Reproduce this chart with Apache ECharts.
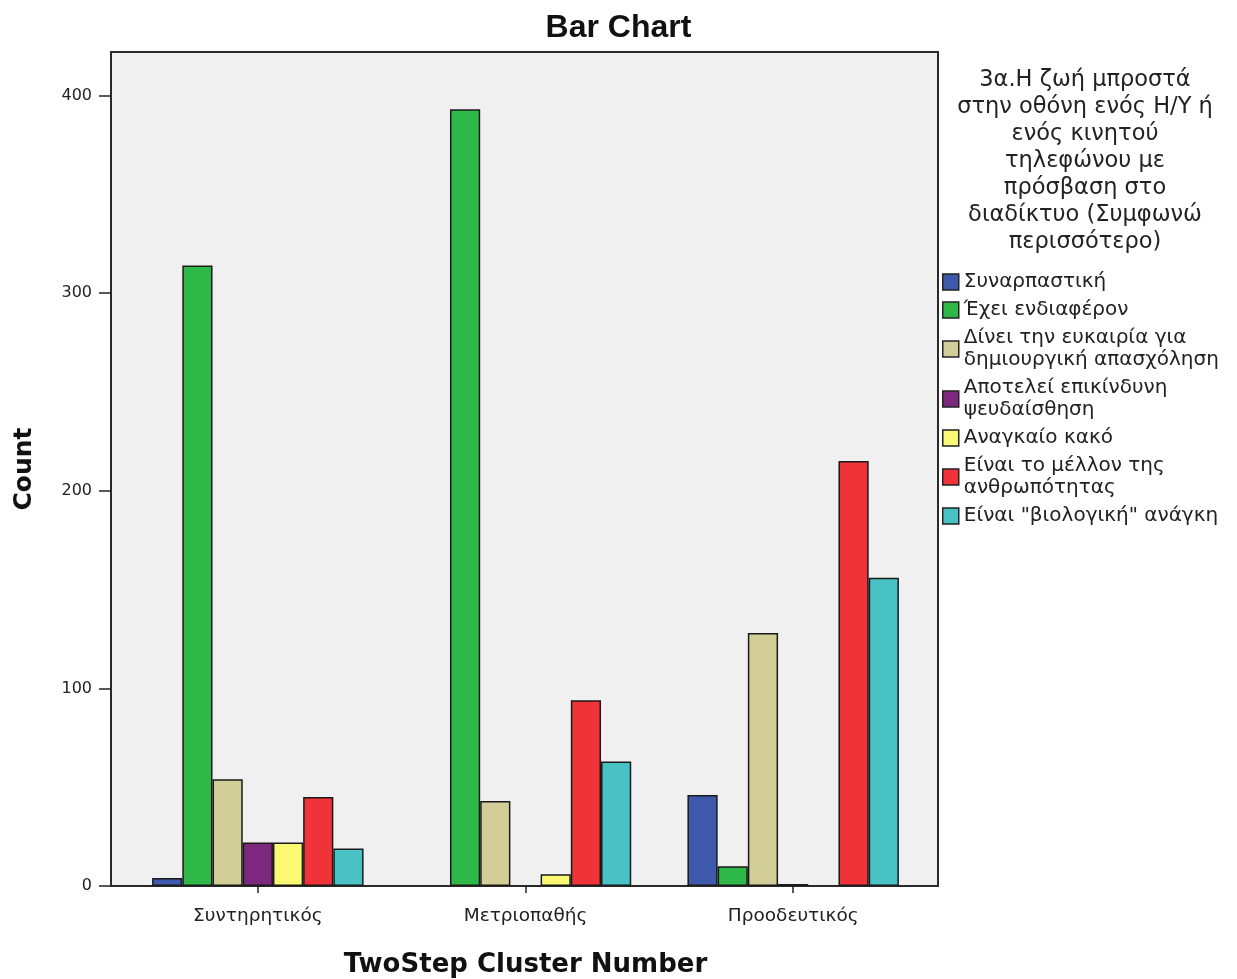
<!DOCTYPE html>
<html>
<head>
<meta charset="utf-8">
<script src="https://cdn.jsdelivr.net/npm/echarts@6/dist/echarts.min.js"></script>
<style>html,body{margin:0;padding:0;background:#fff}#c{width:1237px;height:979px}</style>
</head>
<body>
<div id="c"></div>
<script>
const categories = ['Συντηρητικός', 'Μετριοπαθής', 'Προοδευτικός'];
const seriesNames = [
  'Συναρπαστική',
  'Έχει ενδιαφέρον',
  'Δίνει την ευκαιρία για δημιουργική απασχόληση',
  'Αποτελεί επικίνδυνη ψευδαίσθηση',
  'Αναγκαίο κακό',
  'Είναι το μέλλον της ανθρωπότητας',
  'Είναι "βιολογική" ανάγκη'
];
const legendLabels = [
  'Συναρπαστική',
  'Έχει ενδιαφέρον',
  'Δίνει την ευκαιρία για\nδημιουργική απασχόληση',
  'Αποτελεί επικίνδυνη\nψευδαίσθηση',
  'Αναγκαίο κακό',
  'Είναι το μέλλον της\nανθρωπότητας',
  'Είναι "βιολογική" ανάγκη'
];
const sunarpastiki = [4, null, 46];
const endiaferon = [314, 393, 10];
const eukairia = [54, 43, 128];
const epikindyni = [22, null, 1];
const anagkaio = [22, 6, null];
const mellon = [45, 94, 215];
const viologiki = [19, 63, 156];
const seriesValues = [sunarpastiki, endiaferon, eukairia, epikindyni, anagkaio, mellon, viologiki];
const colors = ['#3E58AC', '#2EB848', '#D3CE97', '#7C287D', '#FBF873', '#EF3338', '#48C2C5'];
const yTicks = [0, 100, 200, 300, 400];
const legendTitle = '3α.Η ζωή μπροστά\nστην οθόνη ενός Η/Υ ή\nενός κινητού\nτηλεφώνου με\nπρόσβαση στο\nδιαδίκτυο (Συμφωνώ\nπερισσότερο)';

const ARIAL = 'Arial, "Liberation Sans", sans-serif';
const WIDE = '"DejaVu Sans", Verdana, sans-serif';
const chart = echarts.init(document.getElementById('c'));
const labelMap = {};
seriesNames.forEach((n, i) => labelMap[n] = legendLabels[i]);

chart.setOption({
  animation: false,
  backgroundColor: '#fff',
  title: {
    text: 'Bar Chart', left: 'center', top: 7,
    textStyle: {fontFamily: ARIAL, fontSize: 32, fontWeight: 'bold', color: '#111'}
  },
  graphic: [
    {type: 'rect', z: -10, silent: true,
     shape: {x: 111, y: 52, width: 827, height: 834},
     style: {fill: '#F0F0F0', stroke: '#2a2a2a', lineWidth: 2}},
    {type: 'text', z: 10, silent: true, x: 1085, y: 67,
     style: {text: legendTitle, textAlign: 'center', textVerticalAlign: 'top',
             font: '22.5px ' + WIDE, lineHeight: 27, fill: '#222'}}
  ],
  legend: {
    orient: 'vertical', left: 937, top: 266,
    itemWidth: 16, itemHeight: 16, itemGap: 6,
    icon: 'rect',
    itemStyle: {borderColor: '#222', borderWidth: 1.5},
    textStyle: {fontFamily: WIDE, fontSize: 20, color: '#222', lineHeight: 22},
    formatter: n => labelMap[n],
    data: seriesNames
  },
  grid: {left: 124, right: 310, top: 52, bottom: 93, containLabel: false, outerBoundsMode: 'none'},
  xAxis: {
    type: 'category', data: categories,
    axisLine: {show: false},
    axisTick: {show: true, alignWithLabel: true, length: 7, lineStyle: {color: '#222', width: 1.5}},
    axisLabel: {fontFamily: WIDE, fontSize: 18.5, color: '#222', margin: 21},
    name: 'TwoStep Cluster Number', nameLocation: 'middle', nameGap: 66,
    nameTextStyle: {fontFamily: WIDE, fontSize: 26, fontWeight: 'bold', color: '#111'}
  },
  yAxis: {
    type: 'value', min: 0, max: 422, offset: 13,
    splitLine: {show: false},
    axisLine: {show: true, lineStyle: {color: '#2a2a2a', width: 2}},
    axisTick: {show: true, length: 12, customValues: yTicks, lineStyle: {color: '#222', width: 1.5}},
    axisLabel: {fontFamily: WIDE, fontSize: 16, color: '#222', margin: 19, customValues: yTicks},
    name: 'Count', nameLocation: 'middle', nameGap: 74,
    nameTextStyle: {fontFamily: WIDE, fontSize: 25, fontWeight: 'bold', color: '#111'}
  },
  series: seriesNames.map((n, i) => ({
    name: n, type: 'bar', data: seriesValues[i],
    barGap: '0%', barCategoryGap: '21%',
    itemStyle: {color: colors[i], borderColor: '#1a1a1a', borderWidth: 1.5}
  }))
});
</script>
</body>
</html>
